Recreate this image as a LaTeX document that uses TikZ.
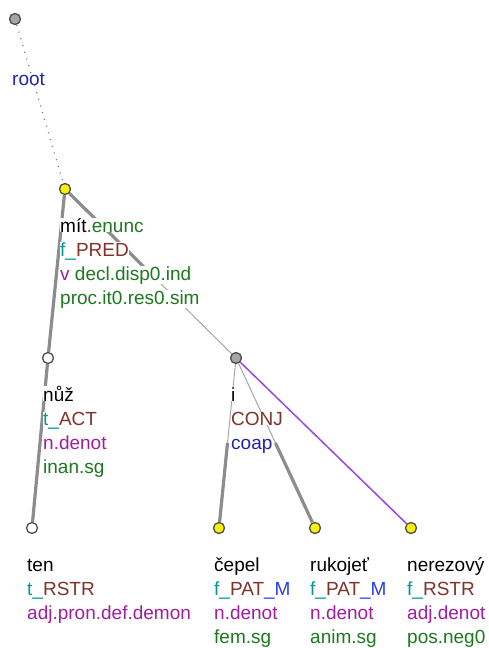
\documentclass[tikz,border=0pt]{standalone}
\usepackage{fontspec}
\setmainfont{Liberation Sans}
\usepackage{xcolor}
\usetikzlibrary{positioning, calc}

\definecolor{tealc}{RGB}{0,150,150}
\definecolor{brownc}{RGB}{130,50,40}
\definecolor{purplec}{RGB}{160,30,160}
\definecolor{greenc}{RGB}{30,120,30}
\definecolor{dbluec}{RGB}{35,35,170}
\definecolor{mbluec}{RGB}{40,60,240}
\definecolor{violetc}{RGB}{150,70,240}

% one label line on a white box, with a fixed strut
\newcommand{\wl}[1]{{\setlength{\fboxsep}{0pt}\colorbox{white}{#1}}\rule{0pt}{16pt}}

\begin{document}
\begin{tikzpicture}[x=1pt, y=-1pt,
    tnode/.style={circle, draw=black!70, line width=1.3pt, minimum size=11pt, inner sep=0pt},
    lbl/.style={anchor=north west, align=left, inner sep=0pt,
                font=\fontsize{19}{24}\selectfont},
    thickedge/.style={draw=black!45, line width=3.2pt},
    thinedge/.style={draw=black!35, line width=1pt}
  ]
  \useasboundingbox (0,0) rectangle (489,648);
  % tree nodes
  \node[tnode, fill=black!35]  (root) at (15,19)   {};
  \node[tnode, fill=yellow]    (mit)  at (65,189)  {};
  \node[tnode, fill=white]     (nuz)  at (48,358)  {};
  \node[tnode, fill=black!35]  (conj) at (236,358) {};
  \node[tnode, fill=white]     (ten)  at (32,528)  {};
  \node[tnode, fill=yellow]    (cep)  at (219,528) {};
  \node[tnode, fill=yellow]    (ruk)  at (315,528) {};
  \node[tnode, fill=yellow]    (ner)  at (411,528) {};
  \coordinate (mitmid) at ($(mit)!0.5!(conj)$);
  \coordinate (cepmid) at ($(conj)!0.5!(cep)$);
  \coordinate (rukmid) at ($(conj)!0.5!(ruk)$);
  % edges
  \draw[black!55, line width=1.2pt, dash pattern=on 1pt off 6pt] (root) -- (mit);
  \draw[thickedge] (mit) -- (nuz);
  \draw[thickedge] (mit) -- (mitmid);
  \draw[thinedge]  (mitmid) -- (conj);
  \draw[thickedge] (nuz) -- (ten);
  \draw[thinedge]  (conj) -- (cepmid);
  \draw[thickedge] (cepmid) -- (cep);
  \draw[thinedge]  (conj) -- (rukmid);
  \draw[thickedge] (rukmid) -- (ruk);
  \draw[violetc, line width=1.5pt] (conj) -- (ner);
  % labels
  \node[lbl] (rootl) at (12,69) {\wl{\color{dbluec}root}};
  \node[lbl] (mitl) at ($(mit)+(-5,27)$)
    {\wl{mít\textcolor{greenc}{.enunc}}\\
     \wl{\textcolor{tealc}{f\_}\textcolor{brownc}{PRED}}\\
     \wl{\textcolor{purplec}{v} \textcolor{greenc}{decl.disp0.ind}}\\
     \wl{\textcolor{greenc}{proc.it0.res0.sim}}};
  \node[lbl] (nuzl) at ($(nuz)+(-5,27)$)
    {\wl{nůž}\\
     \wl{\textcolor{tealc}{t\_}\textcolor{brownc}{ACT}}\\
     \wl{\textcolor{purplec}{n.denot}}\\
     \wl{\textcolor{greenc}{inan.sg}}};
  \node[lbl] (conjl) at ($(conj)+(-5,27)$)
    {\wl{i}\\
     \wl{\textcolor{brownc}{CONJ}}\\
     \wl{\textcolor{dbluec}{coap}}};
  \node[lbl] (tenl) at ($(ten)+(-5,27)$)
    {\wl{ten}\\
     \wl{\textcolor{tealc}{t\_}\textcolor{brownc}{RSTR}}\\
     \wl{\textcolor{purplec}{adj.pron.def.demon}}};
  \node[lbl] (cepl) at ($(cep)+(-5,27)$)
    {\wl{čepel}\\
     \wl{\textcolor{tealc}{f\_}\textcolor{brownc}{PAT}\textcolor{mbluec}{\_M}}\\
     \wl{\textcolor{purplec}{n.denot}}\\
     \wl{\textcolor{greenc}{fem.sg}}};
  \node[lbl] (rukl) at ($(ruk)+(-5,27)$)
    {\wl{rukojeť}\\
     \wl{\textcolor{tealc}{f\_}\textcolor{brownc}{PAT}\textcolor{mbluec}{\_M}}\\
     \wl{\textcolor{purplec}{n.denot}}\\
     \wl{\textcolor{greenc}{anim.sg}}};
  \node[lbl] (nerl) at ($(ner)+(-4,27)$)
    {\wl{nerezový}\\
     \wl{\textcolor{tealc}{f\_}\textcolor{brownc}{RSTR}}\\
     \wl{\textcolor{purplec}{adj.denot}}\\
     \wl{\textcolor{greenc}{pos.neg0}}};
\end{tikzpicture}
\end{document}
